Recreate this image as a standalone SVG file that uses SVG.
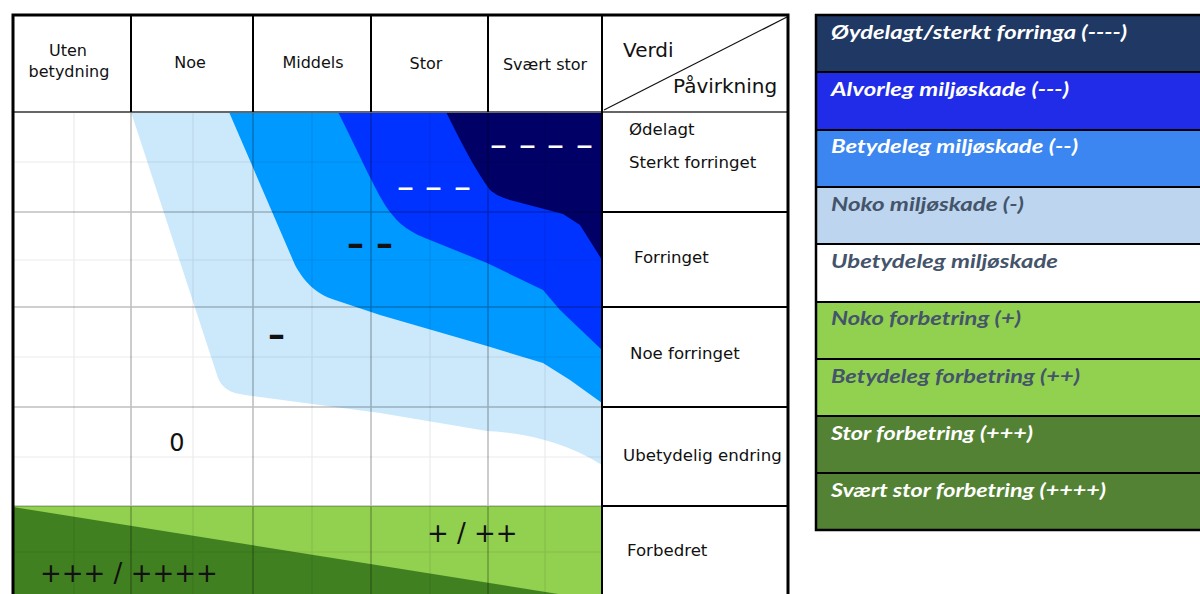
<svg xmlns="http://www.w3.org/2000/svg" width="1200" height="594" viewBox="0 0 1200 594">
<style>
.hd{font-family:"DejaVu Sans",Verdana,sans-serif;font-size:16px;fill:#111;text-anchor:middle}
.rc{font-family:"DejaVu Sans",Verdana,sans-serif;font-size:16.6px;fill:#111}
.big{font-family:"DejaVu Sans",Verdana,sans-serif;font-size:20px;fill:#111}
.dash{font-family:"DejaVu Sans",sans-serif;font-size:34px}
.bd{font-weight:bold}
.sym{font-family:"DejaVu Sans",sans-serif;font-size:26px;fill:#111}
.lg{font-family:Lato,"Liberation Sans",sans-serif;font-weight:bold;font-style:italic;font-size:19.5px}
.maj{stroke:#000;stroke-opacity:0.25;stroke-width:1.6;fill:none}
.min{stroke:#000;stroke-opacity:0.08;stroke-width:1.2;fill:none}
.blk{stroke:#000;stroke-width:2;fill:none}
.row{stroke:#000;stroke-width:2}
</style>
<rect width="1200" height="594" fill="#fff"/>
<g id="chart">
  <g id="fills">
    <path d="M131,112 L602,112 L602,465 C565,442 525,433 487,431 L380,413 L245,395 C230,393 222,388 218,378 Z" fill="#CCE9FC"/>
    <path d="M229,112 L602,112 L602,403 L570,380 L543,363 L487,346 L380,315 L338,301 C318,295 306,285 295,265 Z" fill="#0099FF"/>
    <path d="M338,112 L602,112 L602,350 L560,310 L543,290 L487,263 L425,238 C405,230 395,220 385,205 C370,180 355,145 338,112 Z" fill="#0033FF"/>
    <path d="M446,112 L602,112 L602,260 L580,225 L563,214 L510,200 C500,197 495,194 490,190 C475,170 460,140 446,112 Z" fill="#000066"/>
    <rect x="13" y="506" width="589" height="90" fill="#92D050"/>
    <path d="M13,507 L602,601 L13,601 Z" fill="#418021"/>
  </g>
  <g id="grid">
    <path class="min" d="M74,112V594M193,112V594M312,112V594M430,112V594M545,112V594M13,162H602M13,260H602M13,357H602M13,457H602M13,552H602"/>
    <path class="maj" d="M131,112V594M253,112V594M371,112V594M488,112V594M13,212H602M13,307H602M13,407H602M13,506H602"/>
  </g>
  <g id="frame">
    <path d="M13,112H788" stroke="#666" stroke-width="2"/>
    <path class="blk" d="M131,15V112M253,15V112M371,15V112M488,15V112M602,15V594M602,212H788M602,307H788M602,407H788M602,506H788"/>
    <path d="M604,110L787,17" stroke="#111" stroke-width="1.2"/>
    <path d="M13,594V15H788V594" stroke="#000" stroke-width="3" fill="none"/>
  </g>
  <g id="header">
    <text class="hd" x="68" y="56">Uten</text>
    <text class="hd" x="69" y="77">betydning</text>
    <text class="hd" x="190" y="68">Noe</text>
    <text class="hd" x="313" y="68">Middels</text>
    <text class="hd" x="426" y="69">Stor</text>
    <text class="hd" x="545" y="70">Svært stor</text>
    <text class="big" x="623" y="57">Verdi</text>
    <text class="big" x="673" y="93">Påvirkning</text>
  </g>
  <g id="rowlabels">
    <text class="rc" x="629" y="135">Ødelagt</text>
    <text class="rc" x="629" y="168">Sterkt forringet</text>
    <text class="rc" x="634" y="263">Forringet</text>
    <text class="rc" x="630" y="359">Noe forringet</text>
    <text class="rc" x="623" y="461">Ubetydelig endring</text>
    <text class="rc" x="627" y="556">Forbedret</text>
  </g>
  <g id="marks">
    <text class="dash" fill="#fff" x="490 504 519 533 547 562 576" y="156">– – – –</text>
    <text class="dash" fill="#fff" x="397 411 425 440 454" y="198">– – –</text>
    <text class="dash bd" fill="#111" x="347 362 376" y="255">– –</text>
    <text class="dash bd" fill="#111" x="268" y="346">–</text>
    <text class="sym" x="177" y="451" text-anchor="middle" style="font-size:24px">0</text>
    <text class="sym" x="427" y="542">+ / ++</text>
    <text class="sym" x="40" y="582">+++ / ++++</text>
  </g>
</g>
<g id="legend">
  <rect x="816" y="15" width="390" height="57" fill="#203864"/>
  <rect x="816" y="72" width="390" height="58" fill="#212CE8"/>
  <rect x="816" y="130" width="390" height="57" fill="#3B86F0"/>
  <rect x="816" y="187" width="390" height="57" fill="#BDD5EE"/>
  <rect x="816" y="244" width="390" height="58" fill="#FFFFFF"/>
  <rect x="816" y="302" width="390" height="57" fill="#92D050"/>
  <rect x="816" y="359" width="390" height="57" fill="#92D050"/>
  <rect x="816" y="416" width="390" height="57" fill="#548235"/>
  <rect x="816" y="473" width="390" height="57" fill="#548235"/>
  <path class="row" d="M816,72H1200M816,130H1200M816,187H1200M816,244H1200M816,302H1200M816,359H1200M816,416H1200M816,473H1200"/>
  <path d="M1200,15H816V530H1200" stroke="#000" stroke-width="2.5" fill="none"/>
  <text class="lg" fill="#fff" x="831" y="39" textLength="296" lengthAdjust="spacingAndGlyphs">Øydelagt/sterkt forringa (----)</text>
  <text class="lg" fill="#fff" x="831" y="96" textLength="238" lengthAdjust="spacingAndGlyphs">Alvorleg miljøskade (---)</text>
  <text class="lg" fill="#fff" x="831" y="153" textLength="247" lengthAdjust="spacingAndGlyphs">Betydeleg miljøskade (--)</text>
  <text class="lg" fill="#44546A" x="831" y="211" textLength="193" lengthAdjust="spacingAndGlyphs">Noko miljøskade (-)</text>
  <text class="lg" fill="#44546A" x="831" y="268" textLength="227" lengthAdjust="spacingAndGlyphs">Ubetydeleg miljøskade</text>
  <text class="lg" fill="#44546A" x="831" y="325" textLength="190" lengthAdjust="spacingAndGlyphs">Noko forbetring (+)</text>
  <text class="lg" fill="#44546A" x="831" y="383" textLength="249" lengthAdjust="spacingAndGlyphs">Betydeleg forbetring (++)</text>
  <text class="lg" fill="#fff" x="831" y="440" textLength="202" lengthAdjust="spacingAndGlyphs">Stor forbetring (+++)</text>
  <text class="lg" fill="#fff" x="831" y="497" textLength="275" lengthAdjust="spacingAndGlyphs">Svært stor forbetring (++++)</text>
</g>
</svg>
